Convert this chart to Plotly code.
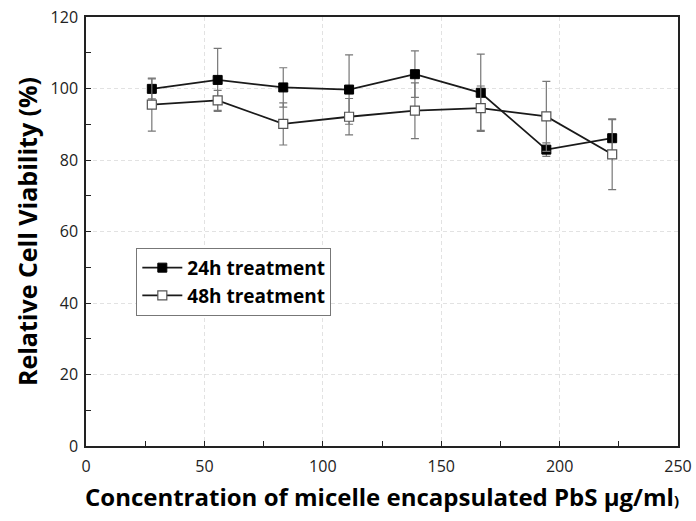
import plotly.graph_objects as go

conc = [27.8, 55.6, 83.3, 111.1, 138.9, 166.7, 194.4, 222.2]
via_24h = [99.9, 102.4, 100.3, 99.7, 104.0, 98.8, 82.9, 86.1]
err_24h = [2.8, 8.8, 5.5, 9.7, 6.5, 10.8, 1.9, 5.2]
via_48h = [95.5, 96.7, 90.1, 92.1, 93.8, 94.5, 92.2, 81.6]
err_48h = [7.4, 2.8, 5.9, 5.1, 7.8, 6.2, 9.8, 9.9]
x_ticks = [0, 50, 100, 150, 200, 250]
y_ticks = [0, 20, 40, 60, 80, 100, 120]

fig = go.Figure()
fig.add_trace(go.Scatter(
    x=conc, y=via_24h, mode="lines+markers", name="24h treatment",
    line=dict(color="#1a1a1a", width=1.8),
    marker=dict(symbol="square", size=9, color="black", line=dict(color="black", width=1)),
    error_y=dict(type="data", array=err_24h, visible=True, color="#777777", thickness=1.2, width=4),
))
fig.add_trace(go.Scatter(
    x=conc, y=via_48h, mode="lines+markers", name="48h treatment",
    line=dict(color="#1a1a1a", width=1.8),
    marker=dict(symbol="square", size=9, color="white", line=dict(color="#555555", width=1.2)),
    error_y=dict(type="data", array=err_48h, visible=True, color="#777777", thickness=1.2, width=4),
))

axis_common = dict(
    showline=True, linecolor="#222222", linewidth=1.5, mirror=True,
    ticks="inside", ticklen=5, tickcolor="#222222",
    showgrid=True, gridcolor="#e2e2e2", griddash="4px,3px", gridwidth=1,
    zeroline=False, automargin=False,
    tickfont=dict(family="Open Sans, Liberation Sans, sans-serif", size=16, color="#222222"),
)

fig.update_xaxes(
    range=[0, 250], tickvals=x_ticks, ticklabelstandoff=5,
    minor=dict(ticks="inside", dtick=25, ticklen=5, tickcolor="#222222", showgrid=False),
    title=dict(text="Concentration of micelle encapsulated PbS μg/ml<span style='font-size:15px'>)</span>",
               font=dict(family="Open Sans, sans-serif", size=24, color="black", weight="bold"), standoff=13),
    **axis_common,
)
fig.update_yaxes(
    range=[0, 120], tickvals=y_ticks, ticklabelstandoff=3,
    minor=dict(ticks="inside", dtick=10, ticklen=5, tickcolor="#222222", showgrid=False),
    title=dict(text="Relative Cell Viability (%)",
               font=dict(family="Open Sans, sans-serif", size=25, color="black", weight="bold"), standoff=6),
    **axis_common,
)

fig.update_layout(
    width=696, height=521,
    margin=dict(l=86, r=18, t=17, b=75),
    paper_bgcolor="white", plot_bgcolor="white",
    showlegend=True,
    legend=dict(
        x=0.085, y=0.462, xanchor="left", yanchor="top",
        bgcolor="white", bordercolor="#777777", borderwidth=1,
        font=dict(family="Open Sans, sans-serif", size=19, color="black", weight="bold"),
        tracegroupgap=2, itemwidth=40,
    ),
)

fig.write_html("out.html", config={"displayModeBar": False},
               post_script="document.body.style.margin='0';document.body.style.overflow='hidden';")
